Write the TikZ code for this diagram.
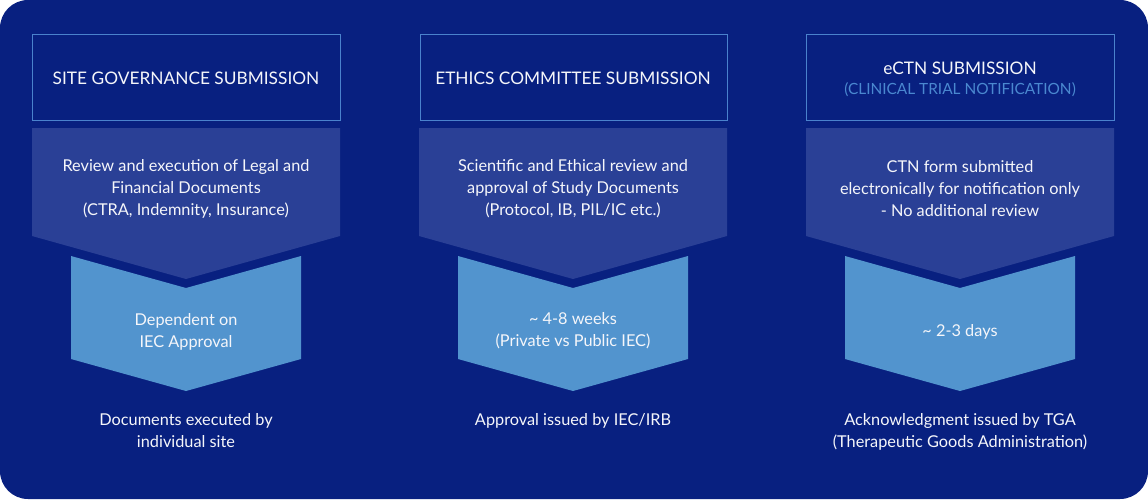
\documentclass[tikz,border=0pt]{standalone}
\usepackage{fontspec}
\setmainfont{Lato}
\definecolor{bgblue}{RGB}{8,32,128}
\definecolor{chevA}{RGB}{42,64,150}
\definecolor{chevB}{RGB}{82,148,206}
\definecolor{edgeblue}{RGB}{74,130,205}
\definecolor{subblue}{RGB}{74,136,208}
\definecolor{txt}{RGB}{245,246,250}
\tikzset{
  titletxt/.style={text=txt, font=\fontsize{17.3}{22}\selectfont, align=center, inner sep=0pt},
  bodytxt/.style={text=txt, font=\fontsize{16.3}{22}\selectfont, align=center, inner sep=0pt},
  subtxt/.style={text=subblue, font=\fontsize{15.4}{20}\selectfont, align=center, inner sep=0pt},
  headbox/.style={draw=edgeblue, line width=0.9pt, fill=bgblue},
}
\newcommand{\chevA}[1]{\fill[chevA] (#1-154,128) -- (#1+154,128) -- (#1+154,236) -- (#1,279) -- (#1-154,236) -- cycle;}
\newcommand{\chevB}[1]{\fill[chevB] (#1-115,256) -- (#1,288) -- (#1+115,256) -- (#1+115,359) -- (#1,391) -- (#1-115,359) -- cycle;}
\begin{document}
\begin{tikzpicture}[x=1pt,y=-1pt]
\useasboundingbox (0,0) rectangle (1148,499);
\fill[white] (0,0) rectangle (1148,499);
\fill[bgblue, rounded corners=28pt] (0,0) rectangle (1148,499);
% column 1
\draw[headbox] (32,34) rectangle (340,120);
\chevA{186}
\chevB{186}
\node[titletxt] (t1) at (186,78) {SITE GOVERNANCE SUBMISSION};
\node[bodytxt] (a1) at (186,189) {Review and execution of Legal and\\Financial Documents\\(CTRA, Indemnity, Insurance)};
\node[bodytxt] (b1) at (186,332) {Dependent on\\IEC Approval};
\node[bodytxt, anchor=north] (c1) at (186,413) {Documents executed by\\individual site};
% column 2
\draw[headbox] (420,34) rectangle (727,120);
\chevA{573}
\chevB{573}
\node[titletxt] (t2) at (573,78) {ETHICS COMMITTEE SUBMISSION};
\node[bodytxt] (a2) at (573,189) {Scientific and Ethical review and\\approval of Study Documents\\(Protocol, IB, PIL/IC etc.)};
\node[bodytxt] (b2) at (573,331) {\textasciitilde{} 4-8 weeks\\(Private vs Public IEC)};
\node[bodytxt, anchor=north] (c2) at (573,413) {Approval issued by IEC/IRB};
% column 3
\draw[headbox] (806,34) rectangle (1114,120);
\chevA{960}
\chevB{960}
\node[titletxt] (t3) at (960,68) {eCTN SUBMISSION};
\node[subtxt] (s3) at (960,90) {(CLINICAL TRIAL NOTIFICATION)};
\node[bodytxt] (a3) at (960,189) {CTN form submitted\\electronically for notification only\\- No additional review};
\node[bodytxt] (b3) at (960,332) {\textasciitilde{} 2-3 days};
\node[bodytxt, anchor=north] (c3) at (960,413) {Acknowledgment issued by TGA\\(Therapeutic Goods Administration)};
\end{tikzpicture}
\end{document}
